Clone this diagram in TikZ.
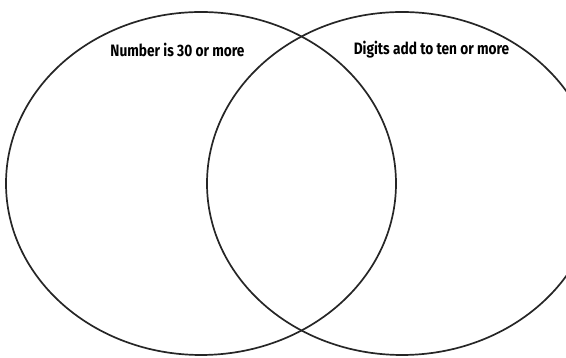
\documentclass[tikz,border=0pt]{standalone}
\usepackage{fontspec}
\setmainfont{Fira Sans}
\begin{document}
\begin{tikzpicture}[x=1pt,y=1pt,
  setline/.style={line width=1.7pt, draw=black!85},
  setlabel/.style={font=\fontsize{16.5}{19}\selectfont\bfseries, inner sep=0pt}]
\useasboundingbox (0,0) rectangle (566,358);
\begin{scope}
\clip (0,0) rectangle (566,358);
\draw[setline] (201,174.5) ellipse [x radius=195, y radius=171.5];
\draw[setline] (402,174.5) ellipse [x radius=195, y radius=171.5];
\end{scope}
\node[setlabel] (left) at (177.5,308) {\scalebox{0.83}[1]{Number is 30 or more}};
\node[setlabel] (right) at (431.5,308) {\scalebox{0.83}[1]{Digits add to ten or more}};
\end{tikzpicture}
\end{document}
